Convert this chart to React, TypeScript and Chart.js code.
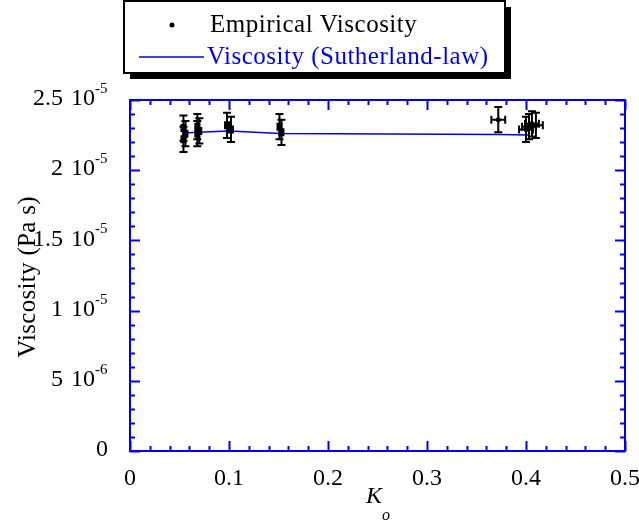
import React, { useEffect, useRef } from "react";
import { Chart, registerables } from "chart.js";
Chart.register(...registerables);

// Empirical viscosity measurements (Pa s) with error bars
const empX = [0.054, 0.054, 0.056, 0.068, 0.068, 0.07, 0.098, 0.102, 0.151, 0.153, 0.372, 0.4, 0.403, 0.406, 0.41];
const empY = [2.3e-5, 2.22e-5, 2.26e-5, 2.31e-5, 2.26e-5, 2.28e-5, 2.32e-5, 2.29e-5, 2.31e-5, 2.27e-5, 2.36e-5, 2.29e-5, 2.31e-5, 2.33e-5, 2.32e-5];
const empXErr = [0.002, 0.002, 0.002, 0.002, 0.002, 0.002, 0.002, 0.002, 0.002, 0.002, 0.007, 0.007, 0.007, 0.007, 0.007];
const empYErr = [0.09e-5, 0.09e-5, 0.09e-5, 0.09e-5, 0.09e-5, 0.09e-5, 0.09e-5, 0.09e-5, 0.09e-5, 0.09e-5, 0.09e-5, 0.09e-5, 0.09e-5, 0.09e-5, 0.09e-5];

// Sutherland-law viscosity
const lawX = [0.054, 0.068, 0.1, 0.152, 0.372, 0.403];
const lawY = [2.265e-5, 2.27e-5, 2.28e-5, 2.262e-5, 2.255e-5, 2.25e-5];

// Axis ticks
const xTicks = [0, 0.1, 0.2, 0.3, 0.4, 0.5];
const xTickLabels = ["0", "0.1", "0.2", "0.3", "0.4", "0.5"];
const yTicks = [0, 5e-6, 1e-5, 1.5e-5, 2e-5, 2.5e-5];
const yTickMant = ["0", "5", "1", "1.5", "2", "2.5"];
const yTickExp = ["", "-6", "-5", "-5", "-5", "-5"];

const SERIF = '"Liberation Serif", "Times New Roman", serif';
const BLUE = "#0000f0";

const decorPlugin = {
  id: "decor",
  afterDatasetsDraw(chart: any) {
    const ctx = chart.ctx;
    const xs = chart.scales.x;
    const ys = chart.scales.y;
    ctx.save();
    ctx.strokeStyle = "#000";
    ctx.lineWidth = 2;
    for (let i = 0; i < empX.length; i++) {
      const px = xs.getPixelForValue(empX[i]);
      const py = ys.getPixelForValue(empY[i]);
      const x0 = xs.getPixelForValue(empX[i] - empXErr[i]);
      const x1 = xs.getPixelForValue(empX[i] + empXErr[i]);
      const y0 = ys.getPixelForValue(empY[i] - empYErr[i]);
      const y1 = ys.getPixelForValue(empY[i] + empYErr[i]);
      ctx.beginPath();
      ctx.moveTo(px, y0); ctx.lineTo(px, y1);
      ctx.moveTo(px - 4, y0); ctx.lineTo(px + 4, y0);
      ctx.moveTo(px - 4, y1); ctx.lineTo(px + 4, y1);
      ctx.moveTo(x0, py); ctx.lineTo(x1, py);
      ctx.moveTo(x0, py - 4); ctx.lineTo(x0, py + 4);
      ctx.moveTo(x1, py - 4); ctx.lineTo(x1, py + 4);
      ctx.stroke();
    }
    ctx.restore();
  },
  afterDraw(chart: any) {
    const ctx = chart.ctx;
    const xs = chart.scales.x;
    const ys = chart.scales.y;
    const a = chart.chartArea;
    ctx.save();
    // frame
    ctx.strokeStyle = BLUE;
    ctx.lineWidth = 2;
    ctx.strokeRect(a.left, a.top, a.right - a.left, a.bottom - a.top);
    // ticks (inward on all four sides)
    ctx.beginPath();
    for (let k = 0; k <= 25; k++) {
      const px = Math.round(xs.getPixelForValue(k * 0.02)) + 0.5;
      const len = k % 5 === 0 ? 10 : 5;
      ctx.moveTo(px, a.bottom); ctx.lineTo(px, a.bottom - len);
      ctx.moveTo(px, a.top); ctx.lineTo(px, a.top + len);
    }
    for (let k = 0; k <= 25; k++) {
      const py = Math.round(ys.getPixelForValue(k * 1e-6)) + 0.5;
      const len = k % 5 === 0 ? 10 : 5;
      ctx.moveTo(a.left, py); ctx.lineTo(a.left + len, py);
      ctx.moveTo(a.right, py); ctx.lineTo(a.right - len, py);
    }
    ctx.stroke();

    // tick labels
    ctx.fillStyle = "#000";
    (ctx as any).letterSpacing = "0px";
    ctx.font = `24px ${SERIF}`;
    ctx.textBaseline = "middle";
    ctx.textAlign = "center";
    xTicks.forEach((v, i) => {
      ctx.fillText(xTickLabels[i], xs.getPixelForValue(v), a.bottom + 28);
    });
    yTicks.forEach((v, i) => {
      const py = ys.getPixelForValue(v);
      ctx.font = `24px ${SERIF}`;
      ctx.textAlign = "right";
      if (yTickExp[i]) {
        ctx.fillText("10", 95, py - 1);
        ctx.fillText(yTickMant[i], 63, py - 1);
        ctx.font = `15px ${SERIF}`;
        ctx.textAlign = "left";
        ctx.fillText(yTickExp[i], 95, py - 11);
      } else {
        ctx.fillText(yTickMant[i], 108, py - 1);
      }
    });

    // axis titles
    ctx.font = `25px ${SERIF}`;
    (ctx as any).letterSpacing = "0.3px";
    ctx.textAlign = "center";
    ctx.save();
    ctx.translate(28, 277);
    ctx.rotate(-Math.PI / 2);
    ctx.fillText("Viscosity (Pa s)", 0, 0);
    ctx.restore();
    (ctx as any).letterSpacing = "0px";
    ctx.font = `italic 24px ${SERIF}`;
    ctx.textAlign = "center";
    ctx.fillText("K", 374, 497);
    ctx.font = `italic 16px ${SERIF}`;
    ctx.fillText("o", 386, 516);

    // legend box with shadow
    const bx = 124, by = 1, bw = 381, bh = 72;
    ctx.fillStyle = "#000";
    ctx.fillRect(bx + 6, by + 6, bw, bh);
    ctx.fillStyle = "#fff";
    ctx.fillRect(bx, by, bw, bh);
    ctx.strokeStyle = "#000";
    ctx.lineWidth = 2;
    ctx.strokeRect(bx, by, bw, bh);
    // entries
    ctx.fillStyle = "#000";
    ctx.beginPath();
    ctx.arc(172, 25, 2.5, 0, Math.PI * 2);
    ctx.fill();
    ctx.font = `25px ${SERIF}`;
    (ctx as any).letterSpacing = "0.5px";
    ctx.textAlign = "left";
    ctx.textBaseline = "middle";
    ctx.fillText("Empirical Viscosity", 210, 25);
    ctx.strokeStyle = BLUE;
    ctx.lineWidth = 1.5;
    ctx.beginPath();
    ctx.moveTo(139, 57);
    ctx.lineTo(204, 57);
    ctx.stroke();
    ctx.fillStyle = BLUE;
    ctx.fillText("Viscosity (Sutherland-law)", 207, 57);
    ctx.restore();
  },
};

export default function App() {
  const ref = useRef<HTMLCanvasElement | null>(null);
  useEffect(() => {
    const canvas = ref.current;
    if (!canvas) return;
    const chart = new Chart(canvas, {
      type: "scatter",
      data: {
        datasets: [
          {
            label: "Viscosity (Sutherland-law)",
            data: lawX.map((x, i) => ({ x, y: lawY[i] })),
            showLine: true,
            borderColor: BLUE,
            borderWidth: 1.5,
            pointRadius: 0,
            tension: 0,
          },
          {
            label: "Empirical Viscosity",
            data: empX.map((x, i) => ({ x, y: empY[i] })),
            backgroundColor: "#000",
            borderColor: "#000",
            pointRadius: 2.5,
            pointBorderWidth: 0,
          },
        ],
      },
      options: {
        responsive: false,
        animation: false,
        layout: { padding: { left: 130, right: 14, top: 100, bottom: 72 } },
        plugins: { legend: { display: false }, tooltip: { enabled: false } },
        scales: {
          x: { type: "linear", min: 0, max: 0.5, display: false },
          y: { type: "linear", min: 0, max: 2.5e-5, display: false },
        },
      },
      plugins: [decorPlugin],
    });
    return () => chart.destroy();
  }, []);
  return (
    <div style={{ position: "fixed", left: 0, top: 0, width: 639, height: 523, background: "#fff" }}>
      <canvas ref={ref} width={639} height={523} style={{ width: 639, height: 523 }} />
    </div>
  );
}
